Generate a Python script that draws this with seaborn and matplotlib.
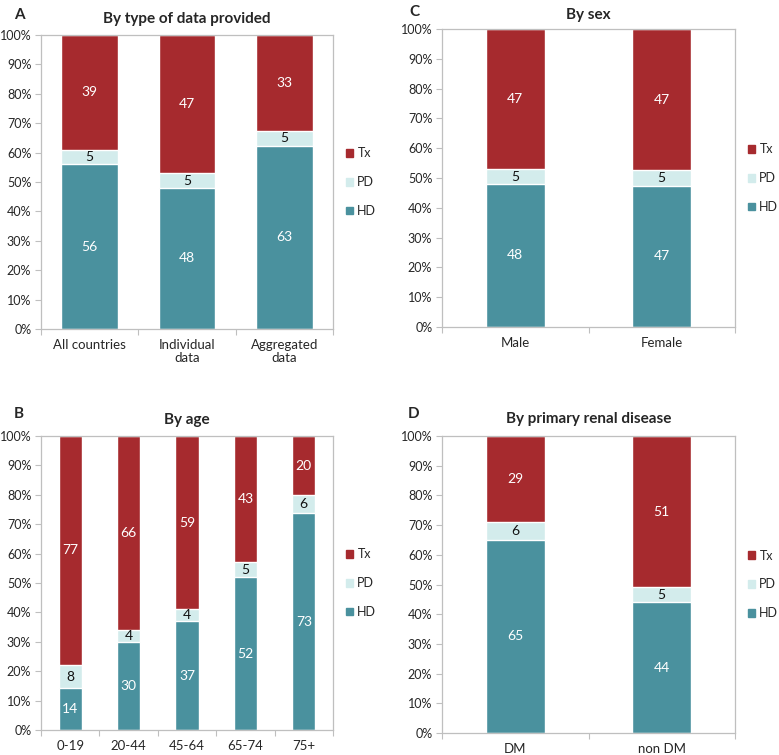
import numpy as np
import pandas as pd
import seaborn as sns
import matplotlib.pyplot as plt
from matplotlib.patches import Patch

# data (percent of patients: HD / PD / Tx)
cats_a = ["All countries", "Individual\ndata", "Aggregated\ndata"]
hd_a = [56, 48, 63]
pd_a = [5, 5, 5]
tx_a = [39, 47, 33]

cats_b = ["0-19", "20-44", "45-64", "65-74", "75+"]
hd_b = [14, 30, 37, 52, 73]
pd_b = [8, 4, 4, 5, 6]
tx_b = [77, 66, 59, 43, 20]

cats_c = ["Male", "Female"]
hd_c = [48, 47]
pd_c = [5, 5]
tx_c = [47, 47]

cats_d = ["DM", "non DM"]
hd_d = [65, 44]
pd_d = [6, 5]
tx_d = [29, 51]

HD_COL = "#4A919E"
PD_COL = "#D3ECEC"
TX_COL = "#A62A2E"
FRAME = "#BFBFBF"

sns.set_theme(style="white")
plt.rcParams["font.family"] = ["Lato", "DejaVu Sans"]

fig = plt.figure(figsize=(7.79, 7.55), dpi=100)
W, H = 779, 755


def add_ax(x0, y0, x1, y1):
    return fig.add_axes([x0 / W, 1 - y1 / H, (x1 - x0) / W, (y1 - y0) / H])


def draw_panel(ax, cats, hd, pdv, tx, title, width, title_pad):
    df = pd.DataFrame({"cat": cats, "HD": hd, "PD": pdv, "Tx": tx})
    tot = df[["HD", "PD", "Tx"]].sum(axis=1)
    df["hd_p"] = df["HD"] / tot * 100
    df["pd_p"] = df["PD"] / tot * 100
    df["tx_p"] = df["Tx"] / tot * 100
    df["top_pd"] = df["hd_p"] + df["pd_p"]
    df["top_tx"] = df["top_pd"] + df["tx_p"]

    # stacked: draw tallest first
    sns.barplot(data=df, x="cat", y="top_tx", color=TX_COL, saturation=1, width=width, ax=ax)
    sns.barplot(data=df, x="cat", y="top_pd", color=PD_COL, saturation=1, width=width, ax=ax)
    sns.barplot(data=df, x="cat", y="hd_p", color=HD_COL, saturation=1, width=width, ax=ax)

    for i, r in df.iterrows():
        ax.text(i, r["hd_p"] / 2, str(r["HD"]), ha="center", va="center", color="white", fontsize=10)
        ax.text(i, r["hd_p"] + r["pd_p"] / 2, str(r["PD"]), ha="center", va="center", color="#111111", fontsize=10)
        ax.text(i, r["top_pd"] + r["tx_p"] / 2, str(r["Tx"]), ha="center", va="center", color="white", fontsize=10)

    n = len(cats)
    ax.set_xlim(-0.5, n - 0.5)
    ax.set_ylim(0, 100)
    ax.set_yticks(np.arange(0, 101, 10))
    ax.set_yticklabels([f"{v}%" for v in range(0, 101, 10)], fontsize=9)
    ax.set_xticks(range(n))
    ax.set_xticklabels(cats, fontsize=9.5, linespacing=1.15)
    ax.set_xticks(np.arange(-0.5, n, 1.0), minor=True)
    ax.tick_params(axis="x", which="major", length=0, pad=7)
    ax.tick_params(axis="x", which="minor", length=4, color=FRAME, width=0.8, direction="out", bottom=True)
    ax.tick_params(axis="y", length=4, color=FRAME, width=0.8, direction="out", left=True, pad=3)
    ax.set_xlabel("")
    ax.set_ylabel("")
    for s in ax.spines.values():
        s.set_color(FRAME)
        s.set_linewidth(0.9)
    ax.set_title(title, fontsize=11, fontweight="bold", pad=title_pad)

    handles = [Patch(color=TX_COL), Patch(color=PD_COL), Patch(color=HD_COL)]
    ax.legend(handles, ["Tx", "PD", "HD"], loc="center left", bbox_to_anchor=(1.0, 0.5),
              frameon=False, fontsize=9, handlelength=0.6, handleheight=0.6,
              handletextpad=0.35, labelspacing=1.35, borderaxespad=0.6)


ax_a = add_ax(41, 35, 333, 329)
ax_c = add_ax(442, 29, 735, 327)
ax_b = add_ax(41, 436, 333, 730)
ax_d = add_ax(442, 436, 735, 733)

draw_panel(ax_a, cats_a, hd_a, pd_a, tx_a, "By type of data provided", 0.58, 9)
draw_panel(ax_c, cats_c, hd_c, pd_c, tx_c, "By sex", 0.4, 7)
draw_panel(ax_b, cats_b, hd_b, pd_b, tx_b, "By age", 0.4, 9)
draw_panel(ax_d, cats_d, hd_d, pd_d, tx_d, "By primary renal disease", 0.4, 9)

# panel letters
for letter, (x, y) in zip(["A", "C", "B", "D"], [(19, 15), (414, 12), (19, 414), (414, 414)]):
    fig.text(x / W, 1 - y / H, letter, fontsize=11, fontweight="bold", ha="center", va="center")

fig.savefig("out.png", dpi=100)
